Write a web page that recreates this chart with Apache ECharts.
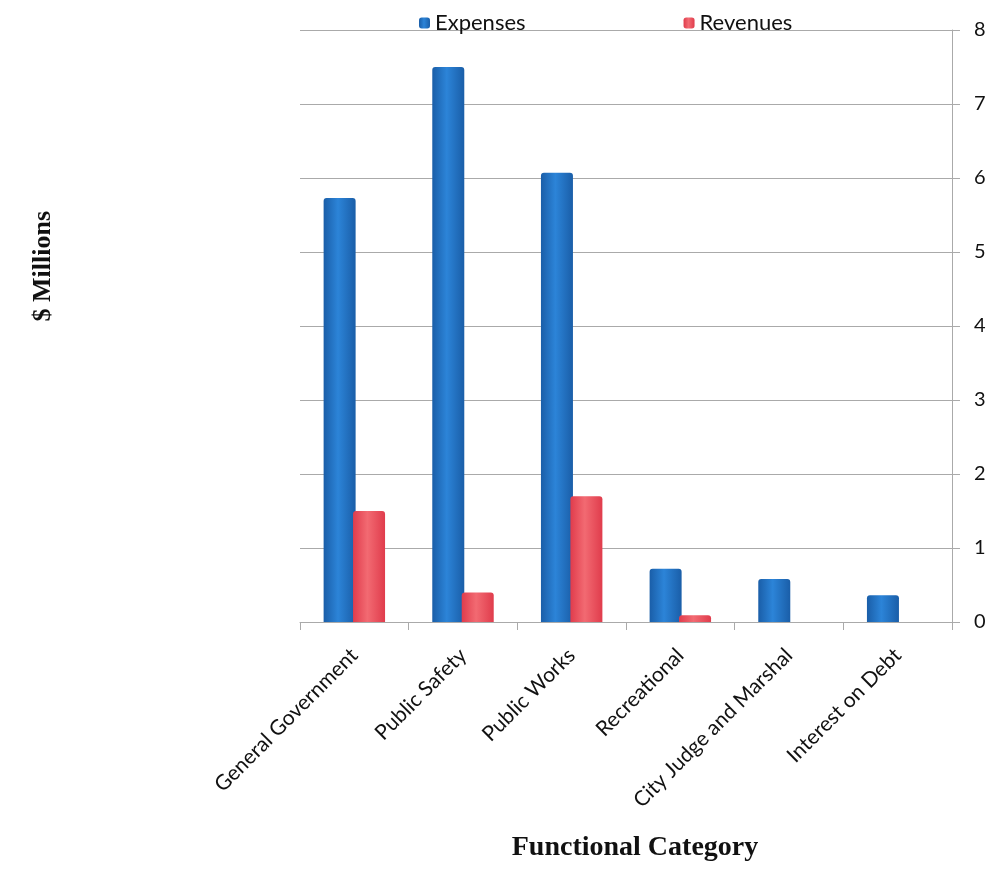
<!DOCTYPE html>
<html>
<head>
<meta charset="utf-8">
<script src="https://cdn.jsdelivr.net/npm/echarts@6/dist/echarts.min.js"></script>
<style>
  html, body { margin: 0; padding: 0; background: #fff; }
</style>
</head>
<body>
<div id="myChart" style="width: 990px;height:892px;"></div>
<script>
// 数据
var categories = ["General Government", "Public Safety", "Public Works", "Recreational", "City Judge and Marshal", "Interest on Debt"];
var expenses = [5.73, 7.5, 6.07, 0.72, 0.58, 0.36];
var revenues = [1.5, 0.4, 1.7, 0.09, 0, 0];
var yTicks = [0, 1, 2, 3, 4, 5, 6, 7, 8];

function barGrad(edge, mid) {
  return new echarts.graphic.LinearGradient(0, 0, 1, 0, [
    { offset: 0, color: edge },
    { offset: 0.45, color: mid },
    { offset: 1, color: edge }
  ]);
}

var chart = echarts.init(document.getElementById("myChart"));
var option = {
  animation: false,
  textStyle: { fontFamily: "Lato" },
  legend: {
    data: ["Expenses", "Revenues"],
    left: 414,
    top: 7,
    itemWidth: 11,
    itemHeight: 11,
    itemGap: 158,
    textStyle: { fontSize: 22, color: "#111", fontFamily: "Lato" }
  },
  grid: {
    left: 300,
    right: 38,
    top: 30,
    bottom: 270,
    containLabel: false
  },
  graphic: [
    {
      type: "text",
      left: 30,
      top: 211,
      rotation: Math.PI / 2,
      style: {
        text: "$ Millions",
        font: "bold 26px 'Liberation Serif'",
        fill: "#111"
      }
    }
  ],
  xAxis: {
    type: "category",
    data: categories,
    name: "Functional Category",
    nameLocation: "middle",
    nameGap: 212,
    nameTextStyle: { fontFamily: "Liberation Serif", fontWeight: "bold", fontSize: 28, color: "#111", padding: [0, 0, 0, 18] },
    axisLine: { show: true, lineStyle: { color: "#aaa" } },
    axisTick: { show: true, interval: 0, length: 8, lineStyle: { color: "#aaa" } },
    axisLabel: { interval: 0, rotate: 45, fontSize: 21, color: "#111", margin: 30 },
    splitLine: { show: false }
  },
  yAxis: {
    type: "value",
    position: "right",
    min: 0,
    max: 8,
    interval: 1,
    axisLine: { show: true, lineStyle: { color: "#aaa" } },
    axisTick: { show: true, length: 8, lineStyle: { color: "#aaa" } },
    axisLabel: {
      fontSize: 20,
      color: "#111",
      margin: 22,
      formatter: function (v) { return yTicks.indexOf(v) >= 0 ? String(v) : ""; }
    },
    splitLine: { show: true, lineStyle: { color: "#aaa" } }
  },
  series: [
    {
      name: "Expenses",
      type: "bar",
      data: expenses,
      barWidth: 32,
      barGap: "-8%",
      itemStyle: { color: barGrad("#1a5ea8", "#2c84d8"), borderRadius: [3, 3, 0, 0] }
    },
    {
      name: "Revenues",
      type: "bar",
      data: revenues,
      barWidth: 32,
      itemStyle: { color: barGrad("#e03c4c", "#f26a72"), borderRadius: [3, 3, 0, 0] }
    }
  ]
};
chart.setOption(option);
</script>
</body>
</html>
